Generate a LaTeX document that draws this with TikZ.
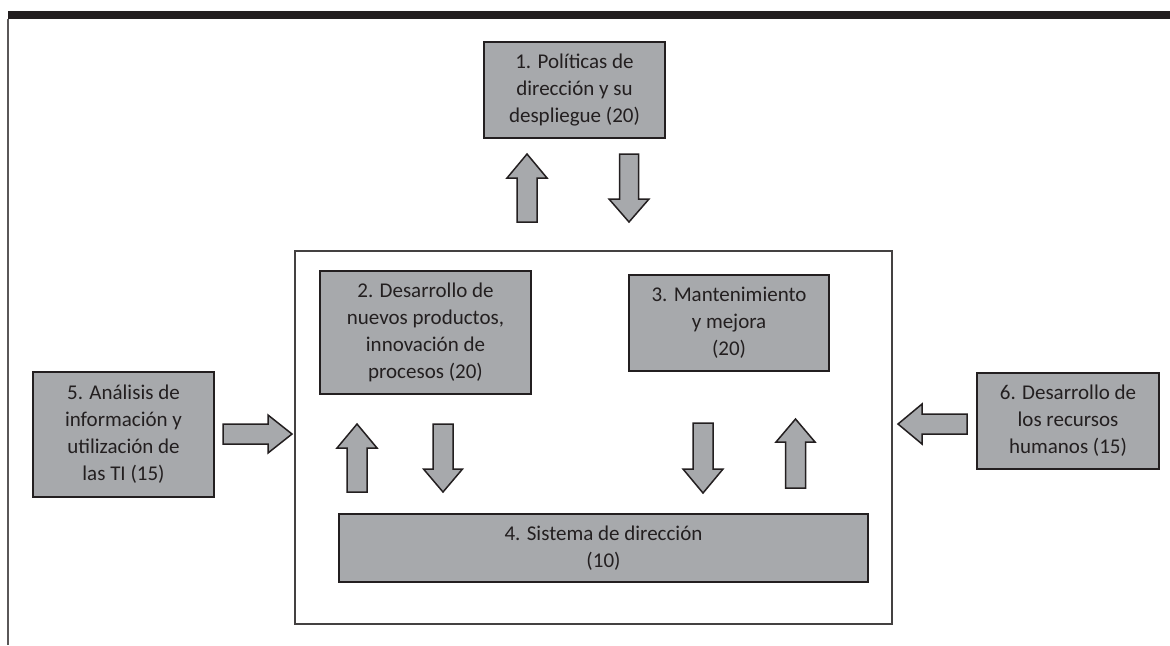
\documentclass[tikz,border=0pt]{standalone}
\usepackage{fontspec}
\setmainfont{Carlito}
\definecolor{boxgray}{HTML}{A7A9AC}
\definecolor{ink}{HTML}{231F20}
\newcommand{\varrow}[6]{% cx, tail y, tip y, shaft half, head half, head base y
  \draw[barrow] ({#1-#4},#2) -- ({#1-#4},#6) -- ({#1-#5},#6) -- (#1,#3) -- ({#1+#5},#6) -- ({#1+#4},#6) -- ({#1+#4},#2) -- cycle;}
\newcommand{\harrow}[6]{% cy, tail x, tip x, shaft half, head half, head base x
  \draw[barrow] (#2,{#1-#4}) -- (#6,{#1-#4}) -- (#6,{#1-#5}) -- (#3,#1) -- (#6,{#1+#5}) -- (#6,{#1+#4}) -- (#2,{#1+#4}) -- cycle;}
\begin{document}
\begin{tikzpicture}[x=0.5pt,y=-0.5pt,
  box/.style={draw=ink, line width=0.8pt, fill=boxgray, inner sep=0pt, align=center,
    font=\fontsize{10.5}{13.5}\selectfont, text=ink},
  barrow/.style={draw=ink, line width=0.75pt, fill=boxgray, line join=miter},
  frame/.style={draw=ink!85, line width=0.55pt}]
\useasboundingbox (0,0) rectangle (1170,645);
% top bar and left rule
\fill[ink] (8,11) rectangle (1170,19);
\draw[draw=ink!75, line width=0.7pt] (8,19) -- (8,645);
% frame
\draw[frame] (295,251) rectangle (892,624);
% boxes
\node[box, minimum width=90.5pt, minimum height=48pt] (b1) at (574.5,90) {1. Políticas de\\dirección y su\\despliegue (20)};
\node[box, minimum width=105.5pt, minimum height=61.5pt] (b2) at (425.5,332.5) {2. Desarrollo de\\nuevos productos,\\innovación de\\procesos (20)};
\node[box, minimum width=100pt, minimum height=48pt] (b3) at (729,323) {3. Mantenimiento\\y mejora\\(20)};
\node[box, minimum width=264.5pt, minimum height=34pt] (b4) at (603.5,548) {4. Sistema de dirección\\(10)};
\node[box, minimum width=90.5pt, minimum height=62.5pt] (b5) at (123.5,434.5) {5. Análisis de\\información y\\utilización de\\las TI (15)};
\node[box, minimum width=91pt, minimum height=48pt] (b6) at (1068,421) {6. Desarrollo de\\los recursos\\humanos (15)};
% block arrows
\varrow{527}{222}{154}{10}{20}{178}
\varrow{629}{154}{222}{9.5}{20}{199}
\varrow{357}{492}{424}{10}{20}{448}
\varrow{443}{424}{492}{10}{19.5}{469}
\varrow{703}{423}{493}{10}{20}{469}
\varrow{795.5}{488}{419}{10}{19.5}{442}
\harrow{434}{223}{292}{10}{19}{268}
\harrow{424}{967}{898}{10}{20}{922}
\end{tikzpicture}
\end{document}
